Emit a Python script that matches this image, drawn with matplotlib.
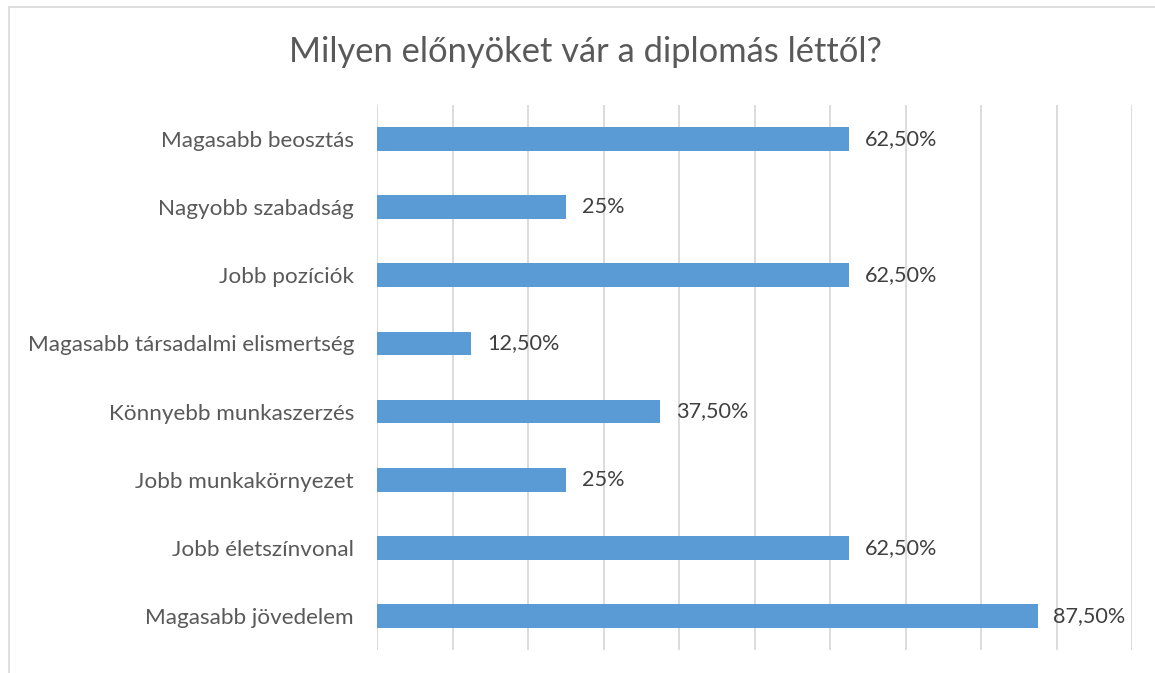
import matplotlib.pyplot as plt
from matplotlib.patches import Rectangle

# Data (bottom to top as drawn)
kategoriak = [
    "Magasabb jövedelem",
    "Jobb életszínvonal",
    "Jobb munkakörnyezet",
    "Könnyebb munkaszerzés",
    "Magasabb társadalmi elismertség",
    "Jobb pozíciók",
    "Nagyobb szabadság",
    "Magasabb beosztás",
]
ertekek = [87.5, 62.5, 25, 37.5, 12.5, 62.5, 25, 62.5]
cimkek = ["87,50%", "62,50%", "25%", "37,50%", "12,50%", "62,50%", "25%", "62,50%"]

plt.rcParams['font.family'] = ['Lato', 'DejaVu Sans']

fig = plt.figure(figsize=(11.55, 6.73), dpi=100)
ax = fig.add_axes([377 / 1155, 1 - 650 / 673, (1132 - 377) / 1155, (650 - 105) / 673])

# chart frame
fig.patches.append(Rectangle((9 / 1155, -0.1), 1.2, 1 - 7 / 673 + 0.1,
                             transform=fig.transFigure, fill=False,
                             edgecolor='#d9d9d9', linewidth=1.2))

y = range(len(kategoriak))
ax.barh(y, ertekek, height=0.35, color='#5b9bd5', zorder=3)
for i, (v, c) in enumerate(zip(ertekek, cimkek)):
    ax.text(v + 2.1, i, c, va='center', ha='left', fontsize=15.6, color='#404040')

ax.set_xlim(0, 100)
ax.set_ylim(-0.5, len(kategoriak) - 0.5)
ax.set_xticks(range(0, 101, 10))
ax.set_xticklabels([])
ax.set_yticks(list(y))
ax.set_yticklabels(kategoriak, fontsize=16.2, color='#595959')
ax.tick_params(axis='both', length=0)
ax.tick_params(axis='y', pad=16.5)
ax.grid(axis='x', color='#d9d9d9', linewidth=1.3, zorder=0)
for s in ax.spines.values():
    s.set_visible(False)

fig.text(0.5065, 1 - 52 / 673, "Milyen előnyöket vár a diplomás léttől?",
         ha='center', va='center', fontsize=24.8, color='#595959')

fig.savefig("out.png", dpi=100)
